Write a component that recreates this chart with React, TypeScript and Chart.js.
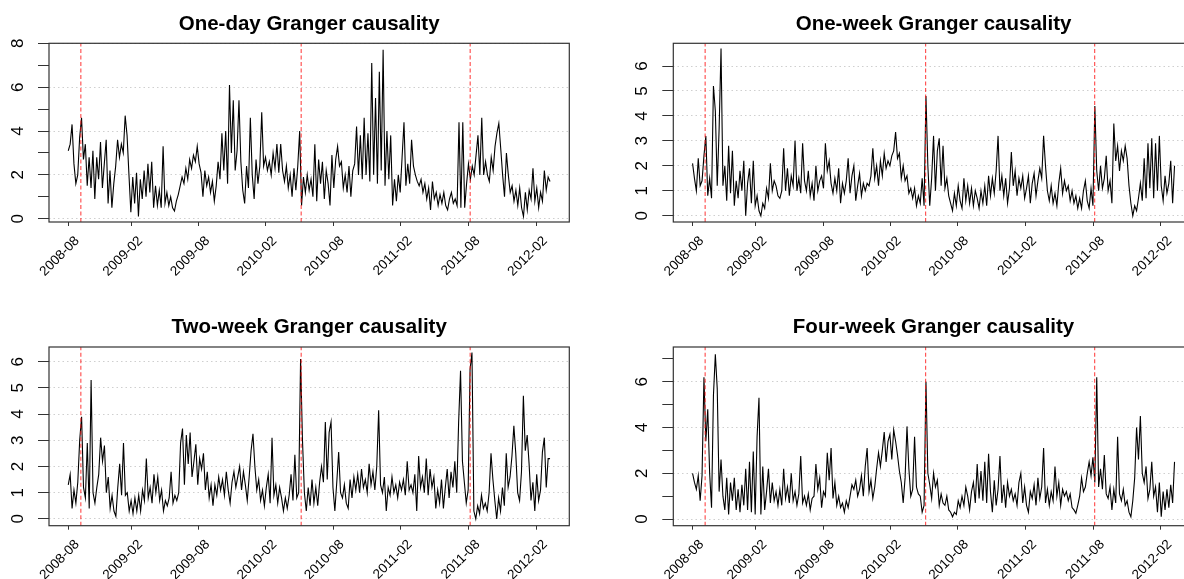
import React, { useEffect, useRef } from 'react';
import { Chart, registerables } from 'chart.js';

Chart.register(...registerables);

const FONT = '"Liberation Sans", Arial, Helvetica, sans-serif';

// trading-day index span of the sample (2008-08 .. 2012-03)
const X_SPAN = 908;
const X_TICK_POS = [0, 119, 246, 372, 499, 627, 755, 882];
const X_TICK_LABELS = ['2008-08', '2009-02', '2009-08', '2010-02', '2010-08', '2011-02', '2011-08', '2012-02'];
const EVENT_POS = [23.7, 439, 757.5];

const TITLES = [
  'One-day Granger causality',
  'One-week Granger causality',
  'Two-week Granger causality',
  'Four-week Granger causality',
];

const ONE_DAY = [
  3.1, 3.4, 4.3, 2.5, 1.6, 2.0, 3.7, 4.6, 2.7, 3.4, 1.5, 2.8, 1.4, 3.1, 0.9, 2.8, 1.8, 3.5, 1.4, 2.5, 3.6, 0.7, 2.2, 0.5, 1.6, 2.4, 3.6, 2.8, 3.4, 3.0, 4.7, 3.8, 2.0, 0.3,
  1.9, 0.7, 2.1, 0.1, 1.8, 0.9, 2.2, 1.0, 2.5, 1.2, 2.6, 0.5, 1.5, 0.6, 1.3, 0.5, 3.3, 0.7, 1.2, 0.6, 1.0, 0.5, 0.35, 0.8, 1.1, 1.5, 1.9, 1.6, 2.3, 1.8, 2.7, 2.3, 2.9, 2.6, 3.3,
  2.5, 2.1, 1.0, 2.2, 1.5, 1.9, 1.2, 1.7, 0.8, 1.5, 2.6, 1.8, 3.9, 2.2, 4.0, 1.6, 6.1, 3.0, 5.4, 2.2, 3.1, 5.4, 2.6, 1.3, 0.7, 2.4, 1.4, 4.6, 2.0, 0.9, 2.7, 1.6, 2.4, 4.85, 2.4,
  2.8, 2.2, 2.6, 2.0, 3.0, 2.3, 3.4, 2.1, 3.4, 2.2, 1.7, 2.4, 1.4, 2.0, 1.0, 2.3, 1.3, 2.4, 4.0, 0.6, 1.9, 1.2, 2.0, 1.3, 1.8, 1.0, 3.4, 0.8, 2.7, 1.6, 2.6, 0.9, 2.2, 1.6, 0.6,
  2.9, 1.4, 2.7, 3.3, 2.4, 2.6, 1.4, 2.0, 1.2, 2.4, 1.0, 2.2, 2.5, 4.2, 2.0, 3.8, 1.8, 4.6, 2.0, 3.9, 1.7, 7.1, 2.0, 5.5, 1.6, 6.7, 2.2, 7.7, 1.5, 4.0, 1.8, 3.8, 0.6, 1.8, 0.8, 2.0,
  1.2, 2.8, 4.4, 1.5, 2.5, 1.6, 3.6, 2.4, 2.0, 1.7, 1.5, 1.8, 1.2, 1.6, 0.9, 1.4, 0.4, 1.7, 0.9, 1.2, 0.6, 1.1, 0.7, 1.2, 0.6, 0.4, 0.9, 1.2, 0.7, 0.9, 0.6, 4.4, 0.5, 4.4, 0.5, 1.6,
  2.5, 1.8, 2.4, 2.0, 2.9, 3.8, 2.0, 4.6, 2.0, 2.6, 2.0, 1.7, 2.8, 2.2, 3.3, 3.9, 4.35, 3.2, 2.0, 1.0, 3.0, 2.0, 1.2, 1.5, 0.8, 1.3, 0.6, 1.4, 0.5, 0.1, 1.2, 0.4, 1.3, 0.9, 2.3,
  0.8, 1.4, 0.5, 1.2, 0.8, 2.2, 1.3, 1.9, 1.7,
];

const ONE_WEEK = [
  2.1, 1.5, 1.0, 2.3, 1.2, 1.4, 2.4, 3.2, 0.8, 1.5, 0.7, 5.2, 4.2, 1.2, 3.5, 6.7, 1.2, 2.0, 0.6, 2.8, 0.9, 2.6, 0.4, 1.4, 0.7, 1.8, 1.0, 2.2, 0.0, 1.3, 1.9, 0.5, 2.2, 0.4,
  0.8, 0.2, 0.0, 0.5, 0.3, 1.1, 0.7, 2.1, 1.0, 1.4, 1.2, 0.8, 0.7, 1.0, 2.7, 1.0, 1.9, 0.8, 1.6, 1.2, 3.0, 1.0, 1.5, 0.9, 2.9, 1.4, 1.0, 1.8, 0.8, 1.3, 0.6, 2.0, 1.0, 1.4, 1.6,
  1.1, 2.9, 1.8, 2.2, 1.3, 0.9, 1.5, 1.0, 1.9, 0.5, 1.3, 0.9, 1.4, 2.3, 0.9, 1.6, 2.0, 0.6, 1.2, 1.7, 0.8, 1.3, 1.0, 1.3, 1.2, 1.6, 2.7, 1.5, 2.0, 1.2, 2.2, 1.6, 2.5, 1.9, 2.2,
  2.0, 2.4, 2.6, 3.35, 2.3, 2.5, 1.5, 2.0, 1.4, 1.6, 0.9, 1.1, 0.7, 1.1, 0.4, 0.8, 0.5, 1.5, 0.4, 4.8, 2.0, 0.4, 1.5, 3.2, 1.0, 2.6, 3.1, 1.2, 2.8, 1.1, 1.5, 0.8, 0.5, 0.2, 0.9, 0.4,
  1.2, 0.6, 0.3, 1.5, 0.6, 1.2, 0.5, 1.1, 0.4, 1.0, 0.7, 0.3, 1.0, 0.5, 1.2, 0.4, 1.6, 0.8, 1.5, 0.9, 1.8, 3.2, 1.0, 1.6, 0.8, 1.5, 0.5, 1.1, 2.55, 1.2, 1.8, 0.8, 1.5, 1.1, 1.6,
  0.7, 1.1, 1.6, 0.5, 1.3, 1.7, 0.8, 1.4, 1.9, 1.5, 3.2, 2.0, 1.0, 0.6, 1.2, 0.5, 0.9, 0.4, 1.3, 1.9, 0.9, 1.4, 1.0, 1.2, 0.6, 1.0, 0.5, 0.8, 0.3, 0.7, 0.3, 1.0, 1.4, 0.6, 0.3, 1.1, 0.4,
  4.4, 1.8, 1.0, 2.0, 1.1, 1.5, 2.4, 1.0, 1.4, 0.5, 3.7, 2.2, 2.8, 1.8, 2.6, 2.2, 2.8, 2.3, 1.2, 0.5, 0.0, 0.4, 0.2, 0.7, 1.3, 0.6, 2.3, 0.7, 2.9, 1.1, 3.1, 0.7, 2.9, 1.0, 3.2, 1.2,
  0.6, 1.6, 0.9, 1.3, 2.2, 0.5, 2.0,
];

const TWO_WEEK = [
  1.3, 1.7, 0.4, 1.1, 0.6, 1.4, 3.0, 3.9, 1.2, 0.8, 2.9, 0.4, 5.3, 1.0, 0.6, 1.2, 1.7, 3.1, 2.2, 2.8, 1.0, 1.6, 0.4, 0.9, 0.3, 0.1, 1.2, 2.1, 0.9, 2.9, 0.9, 1.0, 0.3, 0.7,
  0.2, 0.8, 0.3, 0.9, 0.3, 1.1, 0.7, 2.3, 0.8, 1.2, 0.6, 1.7, 1.0, 1.6, 0.7, 1.1, 0.3, 0.7, 0.5, 0.8, 1.8, 0.6, 0.9, 0.7, 1.0, 2.9, 3.45, 1.3, 3.2, 2.1, 3.3, 1.6, 2.2, 2.85, 1.3,
  2.3, 1.9, 2.5, 1.1, 1.8, 0.8, 1.3, 0.5, 1.3, 0.9, 1.6, 1.1, 1.5, 0.9, 1.8, 1.1, 0.6, 1.4, 1.8, 1.2, 1.6, 2.0, 1.1, 1.8, 1.3, 0.7, 1.6, 2.6, 3.25, 2.0, 1.1, 1.5, 0.7, 1.1, 0.5,
  1.2, 1.7, 0.6, 3.1, 0.9, 1.3, 0.6, 1.2, 0.8, 0.3, 0.8, 0.4, 0.9, 1.7, 0.7, 2.45, 0.8, 1.0, 6.1, 3.0, 1.0, 0.3, 1.2, 0.5, 1.5, 0.6, 1.2, 0.5, 1.4, 2.0, 1.4, 3.7, 1.5, 3.3, 3.7,
  1.2, 0.3, 1.4, 2.55, 1.0, 0.8, 1.3, 0.6, 0.4, 1.5, 0.8, 1.6, 1.1, 1.7, 1.0, 1.9, 1.2, 1.5, 1.0, 2.1, 1.3, 1.8, 1.1, 2.0, 4.15, 1.3, 1.0, 1.6, 0.3, 1.2, 0.9, 1.6, 1.0, 1.3, 0.8,
  1.4, 1.1, 1.5, 0.9, 2.2, 1.1, 1.3, 1.0, 1.7, 0.3, 2.4, 1.2, 1.6, 1.0, 2.3, 0.9, 1.9, 1.2, 1.6, 0.4, 1.1, 0.6, 1.5, 0.4, 1.2, 1.9, 0.8, 1.8, 1.2, 2.2, 1.0, 3.7, 5.65, 2.2, 1.4, 0.6,
  1.1, 5.7, 6.35, 0.3, 0.0, 0.5, 0.2, 0.9, 0.4, 0.6, 0.3, 1.0, 2.5, 1.5, 0.7, 0.0, 0.8, 0.3, 1.2, 0.5, 2.5, 1.2, 1.6, 2.4, 3.55, 2.5, 1.0, 0.7, 1.8, 4.7, 2.6, 3.2, 2.1, 0.7, 1.4,
  0.3, 1.7, 0.7, 1.1, 2.55, 3.1, 1.2, 2.3, 2.3,
];

const FOUR_WEEK = [
  2.0, 1.6, 1.3, 1.9, 0.8, 1.9, 6.2, 3.4, 4.8, 2.0, 0.5, 5.4, 7.2, 5.7, 1.2, 2.6, 1.0, 0.4, 1.8, 0.2, 1.6, 0.8, 1.8, 0.4, 1.3, 0.3, 1.5, 0.6, 2.2, 0.4, 2.5, 0.3, 2.95, 0.2,
  3.6, 5.3, 0.2, 2.3, 0.4, 1.2, 2.2, 0.7, 1.6, 0.8, 1.2, 0.6, 1.3, 0.6, 2.2, 0.9, 1.4, 0.7, 2.0, 0.8, 1.2, 0.6, 1.1, 2.75, 0.7, 1.0, 0.6, 1.1, 0.4, 0.9, 1.0, 2.4, 1.3, 1.8, 0.5,
  1.2, 1.0, 2.9, 1.7, 3.1, 0.9, 1.6, 0.6, 1.0, 0.5, 0.7, 0.3, 0.8, 0.5, 1.0, 1.5, 1.3, 1.7, 1.0, 1.3, 1.9, 1.0, 2.3, 3.1, 1.2, 1.7, 0.9, 1.4, 2.2, 2.9, 2.3, 3.0, 3.8, 2.5, 3.4,
  3.7, 2.6, 3.9, 3.4, 2.8, 2.1, 1.6, 0.7, 1.8, 4.05, 2.2, 1.0, 1.3, 3.6, 1.4, 1.1, 1.0, 0.3, 0.6, 6.0, 2.0, 1.5, 0.9, 2.0, 1.4, 1.7, 0.6, 1.1, 0.7, 0.6, 1.0, 0.4, 0.3, 0.1, 0.3, 0.2,
  0.8, 0.5, 1.0, 0.6, 1.4, 1.0, 0.4, 1.2, 1.6, 0.7, 2.4, 0.9, 2.1, 0.8, 2.5, 0.7, 2.85, 1.2, 0.3, 1.7, 0.6, 1.3, 2.75, 0.7, 1.5, 0.5, 1.6, 1.0, 1.3, 0.8, 1.1, 0.6, 1.6, 2.0, 0.7,
  1.4, 0.6, 0.3, 1.2, 0.9, 1.5, 0.6, 1.8, 0.9, 1.4, 3.1, 0.7, 1.3, 0.6, 1.2, 0.8, 2.3, 1.0, 1.6, 0.6, 1.3, 1.0, 1.2, 0.8, 1.1, 0.5, 0.4, 0.25, 0.6, 1.0, 1.8, 1.2, 1.4, 2.0, 2.5, 1.9, 2.7,
  1.6, 6.2, 1.4, 2.2, 1.3, 2.8, 1.1, 0.9, 1.4, 0.4, 1.3, 0.7, 3.6, 1.1, 0.8, 1.3, 0.6, 0.8, 0.3, 0.1, 0.8, 1.8, 4.0, 2.6, 4.5, 2.0, 1.6, 2.3, 0.9, 1.3, 2.5, 1.0, 1.4, 0.3, 1.6, 0.1,
  1.2, 0.4, 1.3, 0.5, 1.5, 0.7, 2.5,
];

const Y_TICKS_ONE_DAY = [0, 1, 2, 3, 4, 5, 6, 7, 8];
const Y_LABELS_ONE_DAY = [0, 2, 4, 6, 8];
const Y_TICKS_ONE_WEEK = [0, 1, 2, 3, 4, 5, 6];
const Y_LABELS_ONE_WEEK = [0, 1, 2, 3, 4, 5, 6];
const Y_TICKS_TWO_WEEK = [0, 1, 2, 3, 4, 5, 6];
const Y_LABELS_TWO_WEEK = [0, 1, 2, 3, 4, 5, 6];
const Y_TICKS_FOUR_WEEK = [0, 1, 2, 3, 4, 5, 6, 7];
const Y_LABELS_FOUR_WEEK = [0, 2, 4, 6];

const X_MIN = -36.3;
const X_MAX = 944.3;

type PanelCfg = {
  title: string;
  values: number[];
  yTicks: number[];
  yLabels: number[];
  yMin: number;
  yMax: number;
  left: number;
  top: number;
  width: number;
  height: number;
  yAxisWidth: number;
  padRight: number;
  xAxisHeight: number;
  titleTop: number;
  titleBottom: number;
};

const PANELS: PanelCfg[] = [
  {
    title: TITLES[0], values: ONE_DAY, yTicks: Y_TICKS_ONE_DAY, yLabels: Y_LABELS_ONE_DAY,
    yMin: -0.15, yMax: 8.0,
    left: 0, top: 0, width: 592, height: 290, yAxisWidth: 49, padRight: 22.7, xAxisHeight: 68, titleTop: 11.7, titleBottom: 7,
  },
  {
    title: TITLES[1], values: ONE_WEEK, yTicks: Y_TICKS_ONE_WEEK, yLabels: Y_LABELS_ONE_WEEK,
    yMin: -0.25, yMax: 6.91,
    left: 592, top: 0, width: 620, height: 290, yAxisWidth: 81.3, padRight: 18.2, xAxisHeight: 68, titleTop: 11.7, titleBottom: 7,
  },
  {
    title: TITLES[2], values: TWO_WEEK, yTicks: Y_TICKS_TWO_WEEK, yLabels: Y_LABELS_TWO_WEEK,
    yMin: -0.26, yMax: 6.56,
    left: 0, top: 290, width: 592, height: 289, yAxisWidth: 49, padRight: 22.7, xAxisHeight: 53.3, titleTop: 25.4, titleBottom: 7,
  },
  {
    title: TITLES[3], values: FOUR_WEEK, yTicks: Y_TICKS_FOUR_WEEK, yLabels: Y_LABELS_FOUR_WEEK,
    yMin: -0.29, yMax: 7.52,
    left: 592, top: 290, width: 620, height: 289, yAxisWidth: 81.3, padRight: 18.2, xAxisHeight: 53.3, titleTop: 25.4, titleBottom: 7,
  },
];

const boxPlugin = {
  id: 'rbox',
  afterDraw(chart: any) {
    const { ctx, chartArea: a } = chart;
    ctx.save();
    ctx.strokeStyle = '#333333';
    ctx.lineWidth = 1.2;
    ctx.strokeRect(a.left, a.top, a.right - a.left, a.bottom - a.top);
    ctx.restore();
  },
};

function Panel({ p }: { p: PanelCfg }) {
  const ref = useRef<HTMLCanvasElement>(null);
  useEffect(() => {
    const canvas = ref.current;
    if (!canvas) return;
    const n = p.values.length;
    const series = p.values.map((v, i) => ({ x: (i * X_SPAN) / (n - 1), y: v }));
    const events = EVENT_POS.map((e) => ({
      data: [
        { x: e, y: p.yMin },
        { x: e, y: p.yMax },
      ],
      borderColor: 'rgba(255,20,20,0.72)',
      borderWidth: 1.2,
      borderDash: [4, 2.5],
      pointRadius: 0,
      fill: false,
      tension: 0,
    }));
    const chart = new Chart(canvas, {
      type: 'line',
      data: {
        datasets: [
          ...events,
          {
            data: series,
            borderColor: '#000000',
            borderWidth: 1.1,
            pointRadius: 0,
            fill: false,
            tension: 0,
          },
        ],
      } as any,
      options: {
        responsive: false,
        animation: false,
        devicePixelRatio: 1,
        layout: { padding: { left: 0, right: p.padRight, top: 0, bottom: 0 } },
        plugins: {
          legend: { display: false },
          tooltip: { enabled: false },
          title: {
            display: true,
            text: p.title,
            fullSize: false,
            color: '#000',
            font: { family: FONT, size: 20.5, weight: 'bold' },
            padding: { top: p.titleTop, bottom: p.titleBottom },
          },
        },
        scales: {
          x: {
            type: 'linear',
            min: X_MIN,
            max: X_MAX,
            afterBuildTicks: (s: any) => {
              s.ticks = X_TICK_POS.map((value) => ({ value }));
            },
            afterFit: (s: any) => {
              s.height = p.xAxisHeight;
            },
            ticks: {
              autoSkip: false,
              minRotation: 45,
              maxRotation: 45,
              color: '#000',
              font: { family: FONT, size: 13.5 },
              padding: 7,
              labelOffset: 9,
              callback: (_v: any, i: number) => X_TICK_LABELS[i],
            },
            grid: { drawOnChartArea: false, drawTicks: true, tickLength: 4, tickColor: '#333', tickWidth: 1 },
            border: { display: false },
          },
          y: {
            type: 'linear',
            min: p.yMin,
            max: p.yMax,
            afterBuildTicks: (s: any) => {
              s.ticks = p.yTicks.map((value) => ({ value }));
            },
            afterFit: (s: any) => {
              s.width = p.yAxisWidth;
            },
            ticks: {
              autoSkip: false,
              minRotation: 90,
              maxRotation: 90,
              crossAlign: 'center',
              padding: 15,
              color: '#000',
              font: { family: FONT, size: 17 },
              callback: (v: any) => (p.yLabels.includes(Number(v)) ? String(v) : ''),
            },
            grid: {
              color: (ctx: any) =>
                ctx.tick && p.yLabels.includes(ctx.tick.value) ? '#cfcfcf' : 'rgba(0,0,0,0)',
              lineWidth: 1,
              drawTicks: true,
              tickLength: 11,
              tickColor: '#333',
              tickWidth: 1,
            },
            border: { display: false, dash: [1.5, 3] },
          },
        },
      } as any,
      plugins: [boxPlugin],
    });
    return () => chart.destroy();
  }, [p]);
  return (
    <canvas
      ref={ref}
      width={p.width}
      height={p.height}
      style={{ position: 'absolute', left: p.left, top: p.top, width: p.width, height: p.height }}
    />
  );
}

export default function App() {
  return (
    <div
      style={{
        position: 'fixed',
        left: 0,
        top: 0,
        width: 1184,
        height: 579,
        overflow: 'hidden',
        background: '#ffffff',
      }}
    >
      {PANELS.map((p, i) => (
        <Panel key={i} p={p} />
      ))}
    </div>
  );
}
